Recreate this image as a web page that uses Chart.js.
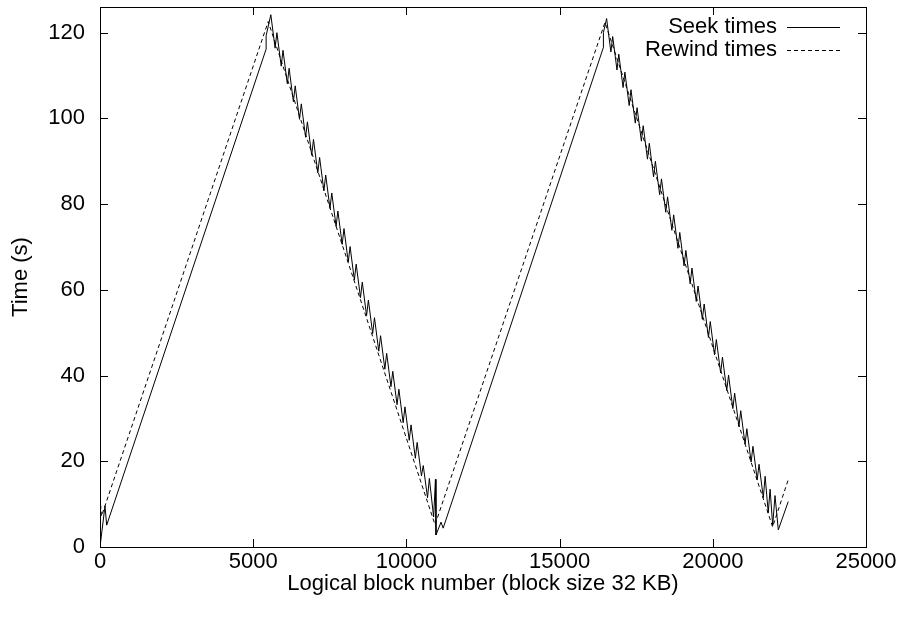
<!DOCTYPE html>
<html lang="en">
<head>
    <meta charset="UTF-8">
    <title>Seek and rewind times</title>
    <script src="https://cdn.jsdelivr.net/npm/chart.js"></script>
    <style>
        body { margin: 0; background: #fff; }
        #wrap { width: 902px; height: 617px; }
    </style>
</head>
<body>
    <div id="wrap"><canvas id="plot"></canvas></div>

    <script>
        // tick values
        const xTicks = [0, 5000, 10000, 15000, 20000, 25000];
        const yTicks = [0, 20, 40, 60, 80, 100, 120];

        // seek times (solid): block number / seconds
        const seekX = [0, 163, 218, 5418, 5422, 5575,
            5715, 5774, 5914, 5973, 6113, 6172, 6312, 6371, 6511, 6570, 6710, 6769, 6909, 6968, 7108,
            7167, 7307, 7366, 7506, 7565, 7705, 7764, 7904, 7963, 8103, 8162, 8302, 8361, 8501,
            8560, 8700, 8759, 8899, 8958, 9098, 9157, 9297, 9356, 9496, 9555, 9695, 9754, 9894,
            9953, 10093, 10152, 10292, 10351, 10491, 10550, 10690, 10749, 10889, 10948, 10966,
            11130, 11200, 16426, 16430, 16534,
            16674, 16733, 16873, 16932, 17072, 17131, 17271, 17330, 17470, 17529, 17669, 17728, 17868,
            17927, 18067, 18126, 18266, 18325, 18465, 18524, 18664, 18723, 18863, 18922, 19062,
            19121, 19261, 19320, 19460, 19519, 19659, 19718, 19858, 19917, 20057, 20116, 20256,
            20315, 20455, 20514, 20654, 20713, 20853, 20912, 21052, 21111, 21251, 21310, 21450,
            21509, 21649, 21708, 21810, 21870, 21955, 22030, 22138, 22462];
        const seekY = [0, 9.6, 5.1, 116.1, 119.3, 124.2,
            116.4, 120.0, 112.2, 115.9, 108.1, 111.7, 103.9, 107.6, 99.8, 103.4, 95.6, 99.2, 91.4, 95.1, 87.3,
            90.9, 83.1, 86.8, 79.0, 82.6, 74.8, 78.4, 70.6, 74.3, 66.5, 70.1, 62.3, 66.0, 58.2,
            61.8, 54.0, 57.6, 49.8, 53.5, 45.7, 49.3, 41.5, 45.2, 37.4, 41.0, 33.2, 36.8, 29.0,
            32.7, 24.9, 28.5, 20.7, 24.4, 16.6, 19.0, 11.5, 16.0, 7.0, 15.8, 2.8,
            5.8, 4.4, 116.5, 120.0, 123.3,
            115.5, 119.1, 111.3, 115.0, 107.2, 110.8, 103.0, 106.7, 98.9, 102.5, 94.7, 98.3, 90.5,
            94.2, 86.4, 90.0, 82.2, 85.9, 78.1, 81.7, 73.9, 77.5, 69.7, 73.4, 65.6,
            69.2, 61.4, 65.1, 57.3, 60.9, 53.1, 56.7, 48.9, 52.6, 44.8, 48.4, 40.6,
            44.3, 36.5, 40.1, 32.3, 35.9, 28.1, 31.8, 24.0, 27.6, 19.8, 23.5, 15.7,
            19.3, 11.5, 16.5, 8.0, 13.5, 5.0, 12.0, 4.0, 10.6];

        // rewind times (dashed)
        const rewindX = [0, 50, 5490, 10935, 16481, 21952, 22462];
        const rewindY = [11.5, 7.2, 122.6, 5.2, 122.4, 4.7, 15.7];

        const font = { family: "'Liberation Sans', Arial, sans-serif", size: 22 };

        const toPoints = (xs, ys) => xs.map((x, i) => ({ x, y: ys[i] }));

        // gnuplot style box, inward ticks on all four sides and the key
        const frame = {
            id: 'frame',
            afterDraw(chart) {
                const { ctx, chartArea: a, scales: { x, y } } = chart;
                ctx.save();
                ctx.strokeStyle = '#000';
                ctx.lineWidth = 1;
                ctx.setLineDash([]);
                ctx.beginPath();
                xTicks.forEach(v => {
                    const px = Math.round(x.getPixelForValue(v)) + 0.5;
                    ctx.moveTo(px, a.bottom); ctx.lineTo(px, a.bottom - 8);
                    ctx.moveTo(px, a.top); ctx.lineTo(px, a.top + 8);
                });
                yTicks.forEach(v => {
                    const py = Math.round(y.getPixelForValue(v)) + 0.5;
                    ctx.moveTo(a.left, py); ctx.lineTo(a.left + 8, py);
                    ctx.moveTo(a.right, py); ctx.lineTo(a.right - 8, py);
                });
                ctx.stroke();
                ctx.strokeRect(Math.round(a.left) + 0.5, Math.round(a.top) + 0.5,
                    Math.round(a.width), Math.round(a.height));

                // key
                ctx.font = font.size + 'px ' + font.family;
                ctx.fillStyle = '#000';
                ctx.textAlign = 'right';
                ctx.textBaseline = 'middle';
                const keys = [['Seek times', []], ['Rewind times', [4, 3]]];
                keys.forEach(([label, dash], i) => {
                    const ky = a.top + 20 + i * 23;
                    ctx.fillText(label, a.right - 89, ky);
                    ctx.setLineDash(dash);
                    ctx.beginPath();
                    ctx.moveTo(a.right - 79, ky + 0.5);
                    ctx.lineTo(a.right - 26, ky + 0.5);
                    ctx.stroke();
                });
                ctx.restore();
            }
        };

        new Chart(document.getElementById('plot'), {
            type: 'line',
            data: {
                datasets: [
                    {
                        label: 'Seek times',
                        data: toPoints(seekX, seekY),
                        borderColor: '#000',
                        borderWidth: 1,
                        pointRadius: 0,
                        tension: 0
                    },
                    {
                        label: 'Rewind times',
                        data: toPoints(rewindX, rewindY),
                        borderColor: '#000',
                        borderWidth: 1,
                        borderDash: [4, 3],
                        pointRadius: 0,
                        tension: 0
                    }
                ]
            },
            options: {
                animation: false,
                responsive: true,
                maintainAspectRatio: false,
                layout: { padding: { top: 7, right: 36, left: 0, bottom: 0 } },
                plugins: {
                    legend: { display: false },
                    tooltip: { enabled: false }
                },
                scales: {
                    x: {
                        type: 'linear',
                        min: 0,
                        max: 25000,
                        afterBuildTicks: axis => { axis.ticks = xTicks.map(v => ({ value: v })); },
                        afterFit: axis => {
                            axis.height = 70;
                            axis.paddingLeft = 0;
                            axis.paddingRight = 0;
                        },
                        border: { display: false },
                        grid: { display: false, drawTicks: false },
                        ticks: { color: '#000', font, padding: 2, maxRotation: 0, callback: v => String(v) },
                        title: {
                            display: true,
                            text: 'Logical block number (block size 32 KB)',
                            color: '#000',
                            font,
                            padding: { top: 0, bottom: 20 }
                        }
                    },
                    y: {
                        type: 'linear',
                        min: 0,
                        max: 126,
                        afterBuildTicks: axis => { axis.ticks = yTicks.map(v => ({ value: v })); },
                        afterFit: axis => {
                            axis.width = 100;
                            axis.paddingTop = 0;
                            axis.paddingBottom = 0;
                        },
                        border: { display: false },
                        grid: { display: false, drawTicks: false },
                        ticks: { color: '#000', font, padding: 15, callback: v => String(v) },
                        title: {
                            display: true,
                            text: 'Time (s)',
                            color: '#000',
                            font,
                            padding: { top: 8, bottom: 0 }
                        }
                    }
                }
            },
            plugins: [frame]
        });
    </script>
</body>
</html>
